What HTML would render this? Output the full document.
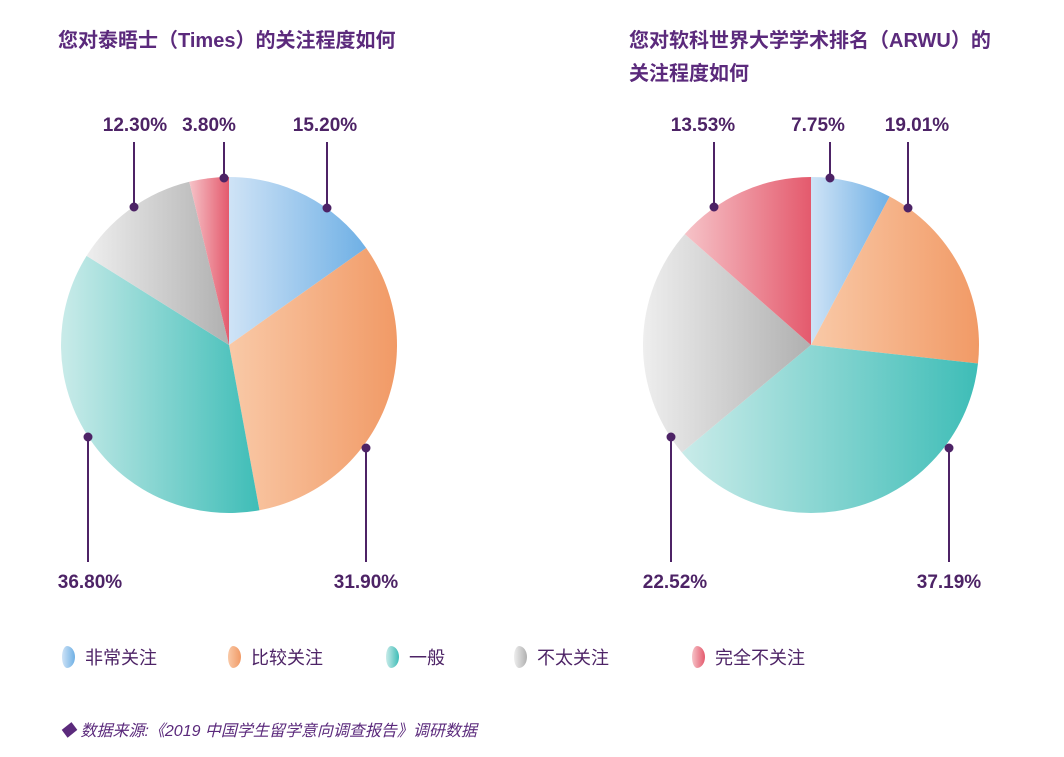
<!DOCTYPE html>
<html><head><meta charset="utf-8"><style>
html,body{margin:0;padding:0;background:#fff;}
body{width:1064px;height:752px;overflow:hidden;}
svg text{font-family:"Liberation Sans","Noto Sans CJK SC",sans-serif;}
</style></head><body>
<svg id="s" width="1064" height="752" viewBox="0 0 1064 752" xmlns="http://www.w3.org/2000/svg">
<defs>
<linearGradient id="gb" x1="0" x2="1"><stop offset="0" stop-color="#cfe3f6"/><stop offset="1" stop-color="#6fb0e5"/></linearGradient>
<linearGradient id="go" x1="0" x2="1"><stop offset="0" stop-color="#f9c9a7"/><stop offset="1" stop-color="#f19a66"/></linearGradient>
<linearGradient id="gt" x1="0" x2="1"><stop offset="0" stop-color="#c9ebe9"/><stop offset="1" stop-color="#3ebdb7"/></linearGradient>
<linearGradient id="gg" x1="0" x2="1"><stop offset="0" stop-color="#eeeeee"/><stop offset="1" stop-color="#b0b0b0"/></linearGradient>
<linearGradient id="gr" x1="0" x2="1"><stop offset="0" stop-color="#f6c3c8"/><stop offset="1" stop-color="#e45a6d"/></linearGradient>
</defs>
<g fill="#5b2a7c" font-weight="bold" font-size="20">
<text x="58" y="47">您对泰晤士（Times）的关注程度如何</text>
<text x="629" y="47">您对软科世界大学学术排名（ARWU）的</text>
<text x="629" y="80">关注程度如何</text>
</g>
<g id="pies"></g>
<g stroke="#4d2366" stroke-width="2" fill="#4d2366">
<line x1="134" y1="142" x2="134" y2="207"/><circle cx="134" cy="207" r="3.5"/>
<line x1="224" y1="142" x2="224" y2="178"/><circle cx="224" cy="178" r="3.5"/>
<line x1="327" y1="142" x2="327" y2="208"/><circle cx="327" cy="208" r="3.5"/>
<line x1="88" y1="437" x2="88" y2="562"/><circle cx="88" cy="437" r="3.5"/>
<line x1="366" y1="448" x2="366" y2="562"/><circle cx="366" cy="448" r="3.5"/>
<line x1="714" y1="142" x2="714" y2="207"/><circle cx="714" cy="207" r="3.5"/>
<line x1="830" y1="142" x2="830" y2="178"/><circle cx="830" cy="178" r="3.5"/>
<line x1="908" y1="142" x2="908" y2="208"/><circle cx="908" cy="208" r="3.5"/>
<line x1="671" y1="437" x2="671" y2="562"/><circle cx="671" cy="437" r="3.5"/>
<line x1="949" y1="448" x2="949" y2="562"/><circle cx="949" cy="448" r="3.5"/>
</g>
<g fill="#4d2366" font-weight="bold" font-size="19" text-anchor="middle">
<text x="135" y="131">12.30%</text><text x="209" y="131">3.80%</text><text x="325" y="131">15.20%</text>
<text x="90" y="588">36.80%</text><text x="366" y="588">31.90%</text>
<text x="703" y="131">13.53%</text><text x="818" y="131">7.75%</text><text x="917" y="131">19.01%</text>
<text x="675" y="588">22.52%</text><text x="949" y="588">37.19%</text>
</g>
<g font-size="18" fill="#4d2366">
<path d="M67 646 a8 11 0 0 1 0 22 a5 11 0 0 1 0 -22z" fill="url(#gb)"/><text x="85" y="664">非常关注</text>
<path d="M233 646 a8 11 0 0 1 0 22 a5 11 0 0 1 0 -22z" fill="url(#go)"/><text x="251" y="664">比较关注</text>
<path d="M391 646 a8 11 0 0 1 0 22 a5 11 0 0 1 0 -22z" fill="url(#gt)"/><text x="409" y="664">一般</text>
<path d="M519 646 a8 11 0 0 1 0 22 a5 11 0 0 1 0 -22z" fill="url(#gg)"/><text x="537" y="664">不太关注</text>
<path d="M697 646 a8 11 0 0 1 0 22 a5 11 0 0 1 0 -22z" fill="url(#gr)"/><text x="715" y="664">完全不关注</text>
</g>
<text x="60" y="736" font-size="16" fill="#5b2a7c" font-style="italic">◆ 数据来源:《2019 中国学生留学意向调查报告》调研数据</text>
</svg>
<script>
function pie(cx,cy,r,vals){
 var fills=["url(#gb)","url(#go)","url(#gt)","url(#gg)","url(#gr)"];
 var tot=vals.reduce(function(a,b){return a+b},0),a=0,out="";
 vals.forEach(function(v,i){
  var a0=a/tot*2*Math.PI,a1=(a+v)/tot*2*Math.PI;a+=v;
  var x0=cx+r*Math.sin(a0),y0=cy-r*Math.cos(a0),x1=cx+r*Math.sin(a1),y1=cy-r*Math.cos(a1);
  out+='<path d="M'+cx+' '+cy+'L'+x0+' '+y0+'A'+r+' '+r+' 0 '+((a1-a0)>Math.PI?1:0)+' 1 '+x1+' '+y1+'Z" fill="'+fills[i]+'"/>';
 });
 return out;
}
document.getElementById("pies").innerHTML=pie(229,345,168,[15.2,31.9,36.8,12.3,3.8])+pie(811,345,168,[7.75,19.01,37.19,22.52,13.53]);
</script>
</body></html>
